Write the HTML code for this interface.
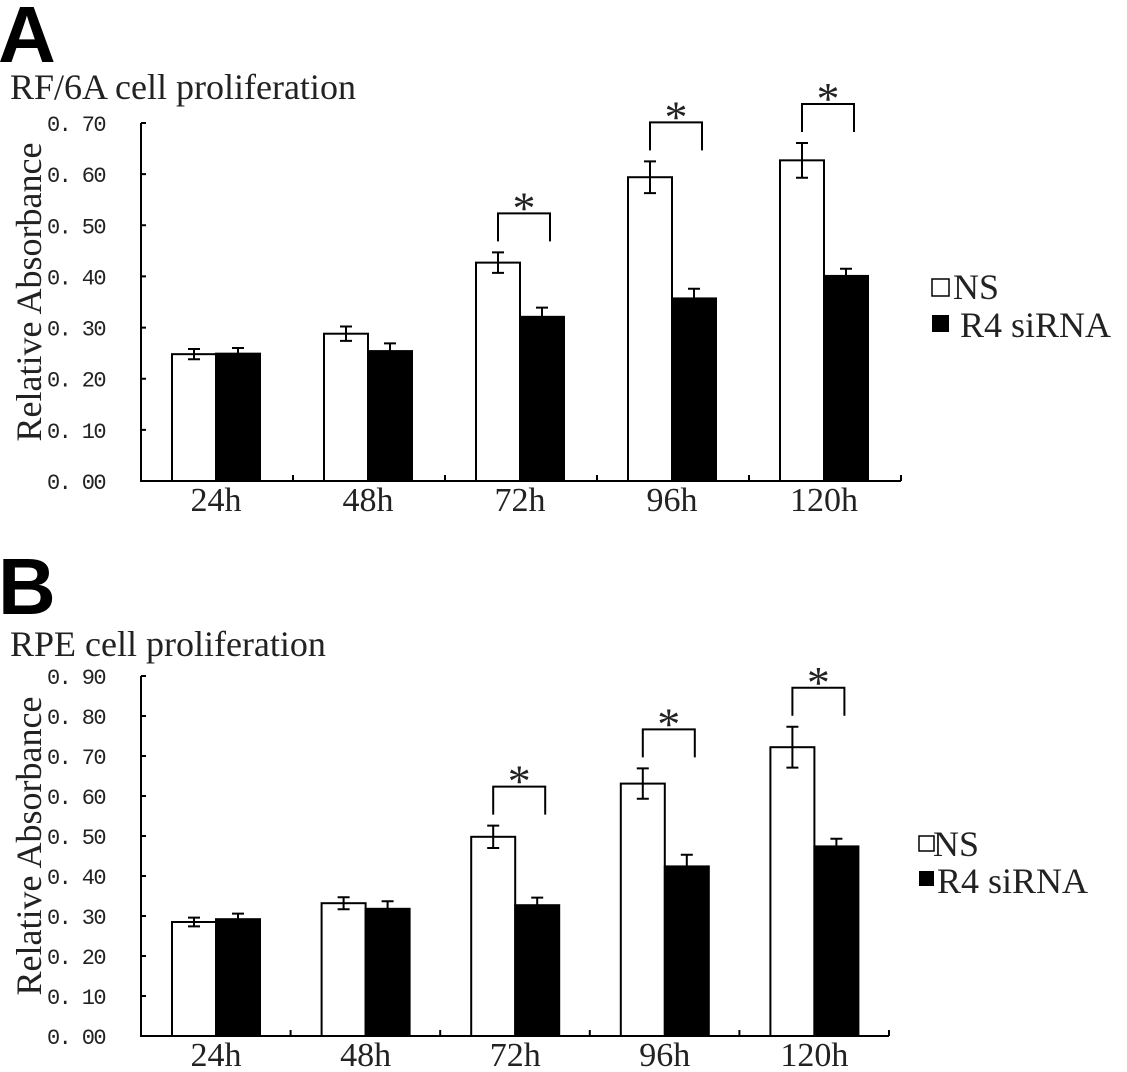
<!DOCTYPE html>
<html><head><meta charset="utf-8"><style>
html,body{margin:0;padding:0;background:#fff;}
svg{display:block;}
.serif{font-family:"Liberation Serif",serif;fill:#222;}
.mono{font-family:"Liberation Mono",monospace;fill:#222;}
</style></head><body>
<svg id="fig" width="1127" height="1072" viewBox="0 0 1127 1072">
<text x="-2" y="62" font-family="Liberation Sans" font-weight="bold" font-size="80">A</text>
<text x="10" y="99" class="serif" font-size="36">RF/6A cell proliferation</text>
<text x="-2" y="614" font-family="Liberation Sans" font-weight="bold" font-size="80">B</text>
<text x="10" y="656" class="serif" font-size="36">RPE cell proliferation</text>
</svg>
<script>
const categories = ["24h","48h","72h","96h","120h"];
const aNS = [0.248,0.288,0.427,0.594,0.627];
const aNSErr = [0.010,0.014,0.020,0.031,0.034];
const aSi = [0.249,0.254,0.321,0.357,0.401];
const aSiErr = [0.011,0.015,0.018,0.019,0.014];
const aTicks = ["0.00","0.10","0.20","0.30","0.40","0.50","0.60","0.70"];
const aSig = [false,false,true,true,true];
const bNS = [0.285,0.332,0.498,0.631,0.722];
const bNSErr = [0.011,0.015,0.028,0.038,0.051];
const bSi = [0.292,0.318,0.327,0.424,0.474];
const bSiErr = [0.014,0.019,0.019,0.029,0.019];
const bTicks = ["0.00","0.10","0.20","0.30","0.40","0.50","0.60","0.70","0.80","0.90"];
const bSig = [false,false,true,true,true];

const NS = "http://www.w3.org/2000/svg";
const svg = document.getElementById('fig');
function mk(tag, attrs, parent){
  const e = document.createElementNS(NS, tag);
  for (const k in attrs) e.setAttribute(k, attrs[k]);
  (parent||svg).appendChild(e);
  return e;
}
function panel(p, ns, nsErr, si, siErr, ticks, sig){
  const g = mk('g', {});
  
  
  const maxV = parseFloat(ticks[ticks.length-1]);
  const y = v => p.base - v / maxV * (p.base - p.top);
  const gw = (p.xEnd - p.x0) / categories.length;
  const gx = i => p.x0 + i * gw;
  categories.forEach((c, i) => {
    const wx = gx(i) + 31, bw = 44;
    const r1 = mk('rect', {x: wx, y: y(ns[i]), width: bw, height: p.base - y(ns[i]), fill: '#fff', stroke: '#000', 'stroke-width': 2}, g);
    
    
    const r2 = mk('rect', {x: wx + bw, y: y(si[i]), width: bw, height: p.base - y(si[i]), fill: '#000', stroke: '#000', 'stroke-width': 2}, g);
    
    
    const c1 = wx + bw / 2, c2 = wx + bw * 1.5;
    const e1 = mk('path', {d: `M${c1},${y(ns[i]+nsErr[i])}V${y(ns[i]-nsErr[i])}M${c1-6},${y(ns[i]+nsErr[i])}h12M${c1-6},${y(ns[i]-nsErr[i])}h12`, stroke: '#000', 'stroke-width': 2, fill: 'none'}, g);
    
    
    const e2 = mk('path', {d: `M${c2},${y(si[i]+siErr[i])}V${y(si[i])}M${c2-6},${y(si[i]+siErr[i])}h12`, stroke: '#000', 'stroke-width': 2, fill: 'none'}, g);
    
    
    if (sig[i]) {
      const bot = y(ns[i] + nsErr[i]) - 11, topY = bot - 28;
      const br = mk('path', {d: `M${c1},${bot}V${topY}H${c2+8}V${bot}`, stroke: '#000', 'stroke-width': 2, fill: 'none'}, g);
      
      
      const st = mk('text', {x: (c1 + c2 + 8) / 2, y: topY + 10, 'text-anchor': 'middle', 'font-size': 46, class: 'serif'}, g);
      st.textContent = '*';
      
      
    }
    const xl = mk('text', {x: wx + bw, y: p.base + 30, 'text-anchor': 'middle', 'font-size': 34, class: 'serif'}, g);
    xl.textContent = c;
    
    
  });
  let d = `M${p.x0},${p.top}V${p.base}H${p.xEnd}`;
  ticks.forEach(t => { d += `M${p.x0},${y(parseFloat(t))}h5`; });
  for (let i = 1; i <= categories.length; i++) d += `M${gx(i)},${p.base}v-6`;
  const ax = mk('path', {d, stroke: '#000', 'stroke-width': 2, fill: 'none'}, g);
  
  
  ticks.forEach(t => {
    const tl = mk('text', {x: 105, y: y(parseFloat(t)) + 8, 'text-anchor': 'end', 'font-size': 22, class: 'mono', 'letter-spacing': '-1.6'}, g);
    tl.textContent = t.replace('.', '. ');
    
    
  });
  const mid = (p.top + p.base) / 2 - 10;
  const yt = mk('text', {x: 41, y: mid, 'text-anchor': 'middle', 'font-size': 36, class: 'serif', transform: `rotate(-90 41 ${mid})`}, g);
  yt.textContent = 'Relative Absorbance';
  
  
  const L = p.leg;
  const s1 = mk('rect', {x: L.x, y: L.y1 - 20, width: L.s, height: L.s, fill: '#fff', stroke: '#000', 'stroke-width': 1.5}, g);
  
  
  const t1 = mk('text', {x: L.tx, y: L.y1, 'font-size': 36, class: 'serif'}, g);
  t1.textContent = 'NS';
  
  
  const s2 = mk('rect', {x: L.x, y: L.y2 - 22, width: L.s, height: L.s, fill: '#000'}, g);
  
  
  const t2 = mk('text', {x: L.tx2, y: L.y2, 'font-size': 36, class: 'serif'}, g);
  t2.textContent = 'R4 siRNA';
  
  
}
panel({id:'a', x0:141, xEnd:901, top:123, base:481, leg:{x:932, s:17, y1:299, y2:337, tx:953, tx2:960}}, aNS, aNSErr, aSi, aSiErr, aTicks, aSig);
panel({id:'b', x0:141, xEnd:889, top:676, base:1036, leg:{x:919, s:15, y1:856, y2:893, tx:933, tx2:937}}, bNS, bNSErr, bSi, bSiErr, bTicks, bSig);
</script>
</body></html>
